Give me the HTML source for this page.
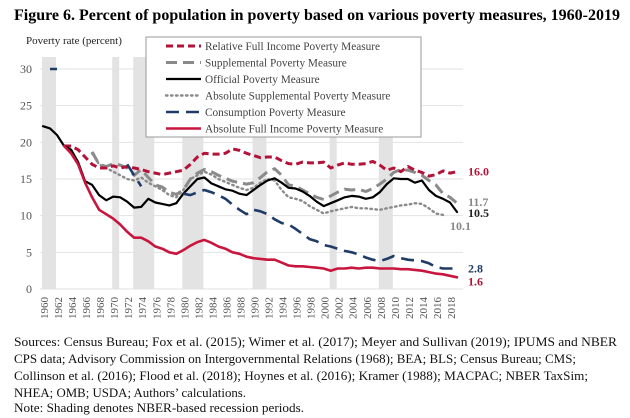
<!DOCTYPE html>
<html><head><meta charset="utf-8"><style>
html,body{margin:0;padding:0;background:#fff;}
svg{display:block;font-family:"Liberation Serif",serif;}
</style></head><body>
<svg id="chart" width="630" height="418" viewBox="0 0 630 418" xmlns="http://www.w3.org/2000/svg">
<text x="14" y="20" font-size="15.5" font-weight="bold" textLength="606" lengthAdjust="spacingAndGlyphs">Figure 6. Percent of population in poverty based on various poverty measures, 1960-2019</text>
<text x="26" y="44" font-size="11" fill="#222">Poverty rate (percent)</text>
<g id="shade"></g><g id="grid"></g><g id="series"></g><g id="labels"></g>
<g>
<rect x="146" y="37" width="275" height="100" fill="#fff" stroke="#999" stroke-width="1"/>
<g id="legend"></g>
</g>
<g font-size="12.8" fill="#111">
<text x="14" y="346" textLength="603" lengthAdjust="spacingAndGlyphs">Sources: Census Bureau; Fox et al. (2015); Wimer et al. (2017); Meyer and Sullivan (2019); IPUMS and NBER</text>
<text x="14" y="363" textLength="562" lengthAdjust="spacingAndGlyphs">CPS data; Advisory Commission on Intergovernmental Relations (1968); BEA; BLS; Census Bureau; CMS;</text>
<text x="14" y="380" textLength="574" lengthAdjust="spacingAndGlyphs">Collinson et al. (2016); Flood et al. (2018); Hoynes et al. (2016); Kramer (1988); MACPAC; NBER TaxSim;</text>
<text x="14" y="397" textLength="232" lengthAdjust="spacingAndGlyphs">NHEA; OMB; USDA; Authors’ calculations.</text>
<text x="14" y="412" textLength="290" lengthAdjust="spacingAndGlyphs">Note: Shading denotes NBER-based recession periods.</text>
</g>
</svg>
<script>
const years=[];for(let y=1960;y<=2019;y++)years.push(y);
const yTicks=[0,5,10,15,20,25,30];
const xTickYears=[1960,1962,1964,1966,1968,1970,1972,1974,1976,1978,1980,1982,1984,1986,1988,1990,1992,1994,1996,1998,2000,2002,2004,2006,2008,2010,2012,2014,2016,2018];
const recessions=[[1960,1961],[1970,1970],[1973,1975],[1980,1982],[1990,1991],[2001,2001],[2008,2009]];
const N=null;
const official=[22.2,21.9,21.0,19.5,19.0,17.3,14.7,14.2,12.8,12.1,12.6,12.5,11.9,11.1,11.2,12.3,11.8,11.6,11.4,11.7,13.0,14.0,15.0,15.2,14.4,14.0,13.6,13.4,13.0,12.8,13.5,14.2,14.8,15.1,14.5,13.8,13.7,13.3,12.7,11.9,11.3,11.7,12.1,12.5,12.7,12.6,12.3,12.5,13.2,14.3,15.1,15.0,15.0,14.5,14.8,13.5,12.7,12.3,11.8,10.5];
const relativeFull=[N,N,N,19.5,19.5,19.0,18.0,17.0,16.5,16.5,16.8,16.5,16.7,16.5,16.3,16.0,15.8,15.6,15.8,16.0,16.2,17.0,18.0,18.5,18.4,18.4,18.5,19.1,18.9,18.5,18.2,17.9,18.0,18.0,17.5,17.1,17.0,17.3,17.2,17.2,17.3,16.5,16.9,17.2,17.0,17.0,17.1,17.4,16.9,16.2,16.5,16.0,16.7,16.2,15.9,15.4,15.6,16.1,15.8,16.0];
const supplemental=[N,N,N,N,N,N,N,18.7,17.0,16.7,17.1,16.9,16.5,15.5,16.3,15.2,14.2,13.9,13.2,12.9,13.5,15.0,15.8,16.3,16.0,15.5,15.1,14.7,14.5,14.3,14.5,15.2,16.0,16.4,15.5,14.2,14.0,13.5,13.0,12.5,12.2,12.7,13.2,13.6,13.5,13.6,13.3,13.7,14.3,15.0,15.9,16.3,16.2,15.9,15.5,14.8,14.2,13.0,12.5,11.7];
const absSupplemental=[N,N,N,N,N,N,N,18.5,17.0,16.5,16.0,15.5,15.0,14.8,15.2,14.5,14.0,13.5,12.8,12.5,13.5,15.0,15.5,16.0,15.6,15.0,14.6,14.2,13.8,13.5,13.8,14.5,15.0,14.8,13.5,12.5,12.3,12.0,11.3,10.8,10.3,10.6,10.8,11.0,11.2,11.0,11.0,10.9,10.8,11.0,11.2,11.4,11.5,11.7,11.6,11.0,10.3,10.1,N,N];
const consumption=[N,30,30,N,N,N,N,N,N,N,N,N,17.0,15.5,14.0,N,N,N,N,N,13.0,12.8,13.2,13.5,13.2,12.8,12.3,11.5,10.8,10.2,10.8,10.6,10.2,9.5,9.0,8.8,8.2,7.5,6.8,6.5,6.0,5.8,5.5,5.2,5.0,4.7,4.3,4.0,3.8,4.1,4.5,4.2,4.0,3.9,3.8,3.5,3.0,2.8,2.8,2.8];
const absFull=[N,N,N,19.5,18.5,17.0,14.5,12.5,10.8,10.2,9.6,8.8,7.8,7.0,7.0,6.5,5.8,5.5,5.0,4.8,5.3,5.9,6.4,6.7,6.3,5.8,5.5,5.0,4.8,4.4,4.2,4.1,4.0,4.0,3.6,3.2,3.1,3.1,3.0,2.9,2.8,2.5,2.8,2.8,2.9,2.8,2.9,2.9,2.8,2.8,2.8,2.7,2.7,2.6,2.5,2.3,2.1,2.0,1.8,1.6];
const endLabels=[["16.0",16.0,"#b5123a",0],["11.7",11.7,"#888",-1],["10.5",10.5,"#222",1],["10.1",10.1,"#888",11],["2.8",2.8,"#1f3b66",0],["1.6",1.6,"#b5123a",4]];

const NS="http://www.w3.org/2000/svg";
const x0=43,x1=457,y0=289,yTop=69;
const xs=y=>x0+(y-1960)*(x1-x0)/59;
const ys=v=>y0-(v/30)*(y0-yTop);
function mk(tag,attrs,parent){const e=document.createElementNS(NS,tag);for(const k in attrs)e.setAttribute(k,attrs[k]);parent.appendChild(e);return e;}
const gShade=document.getElementById('shade'),gGrid=document.getElementById('grid'),gS=document.getElementById('series'),gL=document.getElementById('labels'),gLeg=document.getElementById('legend');
recessions.forEach(r=>{
 const e=mk('rect',{x:xs(r[0])-1,y:yTop-12,width:xs(r[1])-xs(r[0])+7,height:y0-yTop+12,fill:'#e3e3e3'},gShade);
 
 
});
yTicks.forEach(t=>{
 const l=mk('line',{x1:40,x2:463,y1:ys(t),y2:ys(t),stroke:'#e2e2e2','stroke-width':1},gGrid);
 
 
 const tx=mk('text',{x:32,y:ys(t)+4,'font-size':12,'text-anchor':'end',fill:'#555'},gGrid);tx.textContent=t;
 
 
});
xTickYears.forEach(yr=>{
 const cx=xs(yr)+1,cy=297;
 const tx=mk('text',{x:cx,y:cy,'font-size':11,fill:'#555','text-anchor':'end',transform:`rotate(-90 ${cx} ${cy}) translate(-26 4)`},gGrid);
 tx.setAttribute('x',cx+26);tx.textContent=yr;
 
 
});
const series=[
 ['absolute-supplemental-line',absSupplemental,'#8a8a8a',2.4,'1.5 3.5','round'],
 ['supplemental-line',supplemental,'#8a8a8a',3,'11 6','butt'],
 ['relative-full-income-line',relativeFull,'#b5123a',3,'7 4','butt'],
 ['official-line',official,'#000',2.2,'','round'],
 ['consumption-line',consumption,'#1f3b66',2.6,'13 7','butt'],
 ['absolute-full-income-line',absFull,'#c8163e',2.6,'','round']
];
series.forEach(s=>{
 let d='',pen=false;
 s[1].forEach((v,i)=>{if(v===null){pen=false;return;}d+=(pen?'L':'M')+xs(years[i]).toFixed(1)+' '+ys(v).toFixed(1);pen=true;});
 const p=mk('path',{d:d,fill:'none',stroke:s[2],'stroke-width':s[3],'stroke-linecap':s[5],'stroke-linejoin':'round'},gS);
 if(s[4])p.setAttribute('stroke-dasharray',s[4]);
 
 
});
endLabels.forEach(l=>{
 const t=mk('text',{x:468,y:ys(l[1])+4+l[3],'font-size':12,'font-weight':'bold',fill:l[2]},gL);
 if(l[0]==='10.1')t.setAttribute('x',450);
 t.textContent=l[0];
 
 
});
const legendItems=[
 ['Relative Full Income Poverty Measure','#b5123a',3,'7 4'],
 ['Supplemental Poverty Measure','#8a8a8a',3,'11 6'],
 ['Official Poverty Measure','#000',2.2,''],
 ['Absolute Supplemental Poverty Measure','#8a8a8a',2.4,'1.5 3.5'],
 ['Consumption Poverty Measure','#1f3b66',2.6,'13 7'],
 ['Absolute Full Income Poverty Measure','#c8163e',2.6,'']
];
legendItems.forEach((it,i)=>{
 const y=46+i*16.5;
 const g=mk('g',{},gLeg);
 
 
 const ln=mk('line',{x1:166,x2:201,y1:y,y2:y,stroke:it[1],'stroke-width':it[2],'stroke-linecap':it[3]==='1.5 3.5'?'round':'butt'},g);
 if(it[3])ln.setAttribute('stroke-dasharray',it[3]);
 const t=mk('text',{x:205,y:y+4,'font-size':11.3,fill:'#444'},g);t.textContent=it[0];
});
</script>
</body></html>
